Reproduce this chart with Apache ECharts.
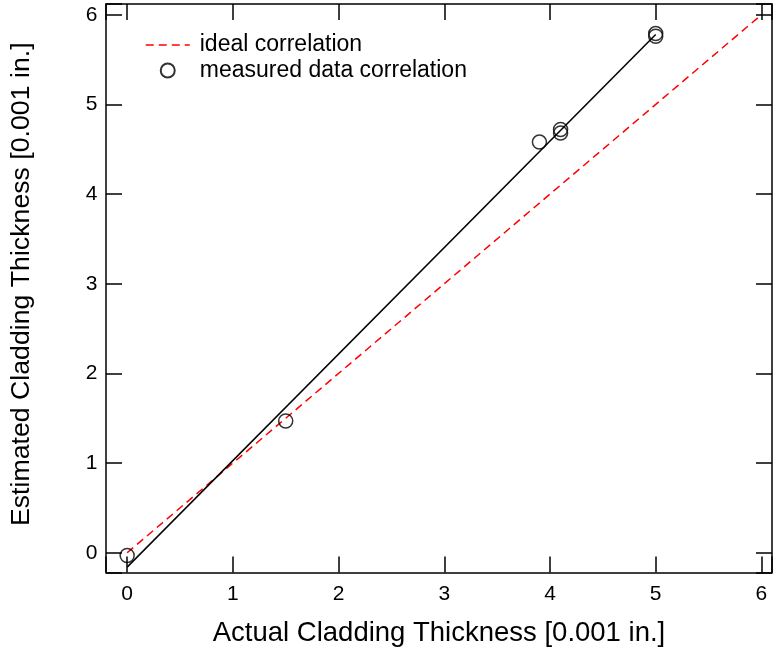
<!DOCTYPE html>
<html>
<head>
<meta charset="utf-8">
<script src="https://cdn.jsdelivr.net/npm/echarts@6/dist/echarts.min.js"></script>
<style>
  html, body { margin: 0; padding: 0; background: #fff; }
  #chart { width: 775px; height: 655px; }
</style>
</head>
<body>
<div id="chart"></div>
<script>
// measured points (actual, estimated)
var measuredX = [0, 1.5, 3.9, 4.1, 4.1, 5, 5];
var measuredY = [-0.03, 1.47, 4.58, 4.72, 4.68, 5.79, 5.76];
// ideal 1:1 line and fitted line end points
var idealX = [0, 6];
var idealY = [0, 6];
var fitX = [0, 5];
var fitY = [-0.16, 5.78];

function pairs(xs, ys) {
  return xs.map(function (x, i) { return [x, ys[i]]; });
}

var font = 'Liberation Sans, Arial, sans-serif';
var intLabel = function (v) {
  return Math.abs(v - Math.round(v)) < 1e-6 ? String(Math.round(v)) : '';
};

var chart = echarts.init(document.getElementById('chart'));
var axisCommon = {
  type: 'value',
  splitNumber: 6,
  splitLine: { show: false },
  axisLine: { onZero: false, lineStyle: { color: '#000', width: 1.5 } },
  axisTick: { inside: true, length: 16, lineStyle: { color: '#000', width: 1.5 } }
};

var option = {
  animation: false,
  grid: { left: 105, top: 4, width: 667, height: 568.5 },
  legend: {
    orient: 'vertical',
    left: 145,
    top: 33.5,
    padding: 0,
    itemWidth: 44,
    itemHeight: 14,
    itemGap: 2.5,
    lineStyle: { width: 1.5 },
    textStyle: { fontFamily: font, fontSize: 23, lineHeight: 23, color: '#000', padding: [0, 0, 0, 5] },
    data: ['ideal correlation', 'measured data correlation']
  },
  xAxis: [
    Object.assign({}, axisCommon, {
      min: -0.2, max: 6.1,
      position: 'bottom',
      name: 'Actual Cladding Thickness [0.001 in.]',
      nameLocation: 'middle',
      nameGap: 46.5,
      nameTextStyle: { fontFamily: font, fontSize: 27.5, color: '#000' },
      axisLabel: { formatter: intLabel, margin: 11.5, fontFamily: font, fontSize: 21, color: '#000' }
    }),
    Object.assign({}, axisCommon, {
      min: -0.2, max: 6.1,
      position: 'top',
      axisLabel: { show: false }
    })
  ],
  yAxis: [
    Object.assign({}, axisCommon, {
      min: -0.22, max: 6.12,
      position: 'left',
      name: 'Estimated Cladding Thickness [0.001 in.]',
      nameLocation: 'middle',
      nameGap: 71,
      nameTextStyle: { fontFamily: font, fontSize: 26.7, color: '#000', padding: [0, 0, 0, 8] },
      axisLabel: { formatter: intLabel, margin: 8.5, fontFamily: font, fontSize: 21, color: '#000' }
    }),
    Object.assign({}, axisCommon, {
      min: -0.22, max: 6.12,
      position: 'right',
      axisLabel: { show: false }
    })
  ],
  series: [
    {
      name: 'ideal correlation',
      type: 'line',
      data: pairs(idealX, idealY),
      symbol: 'none',
      lineStyle: { color: '#ff0000', width: 1.5, type: [8, 5] },
      itemStyle: { color: 'rgba(0,0,0,0)' },
      z: 2
    },
    {
      name: 'fit',
      type: 'line',
      data: pairs(fitX, fitY),
      symbol: 'none',
      lineStyle: { color: '#000', width: 1.5 },
      z: 3
    },
    {
      name: 'measured data correlation',
      type: 'scatter',
      data: pairs(measuredX, measuredY),
      symbol: 'circle',
      symbolSize: 14,
      itemStyle: { color: 'rgba(0,0,0,0)', borderColor: '#000', borderWidth: 1.5 },
      z: 4
    }
  ]
};
chart.setOption(option);
</script>
</body>
</html>
